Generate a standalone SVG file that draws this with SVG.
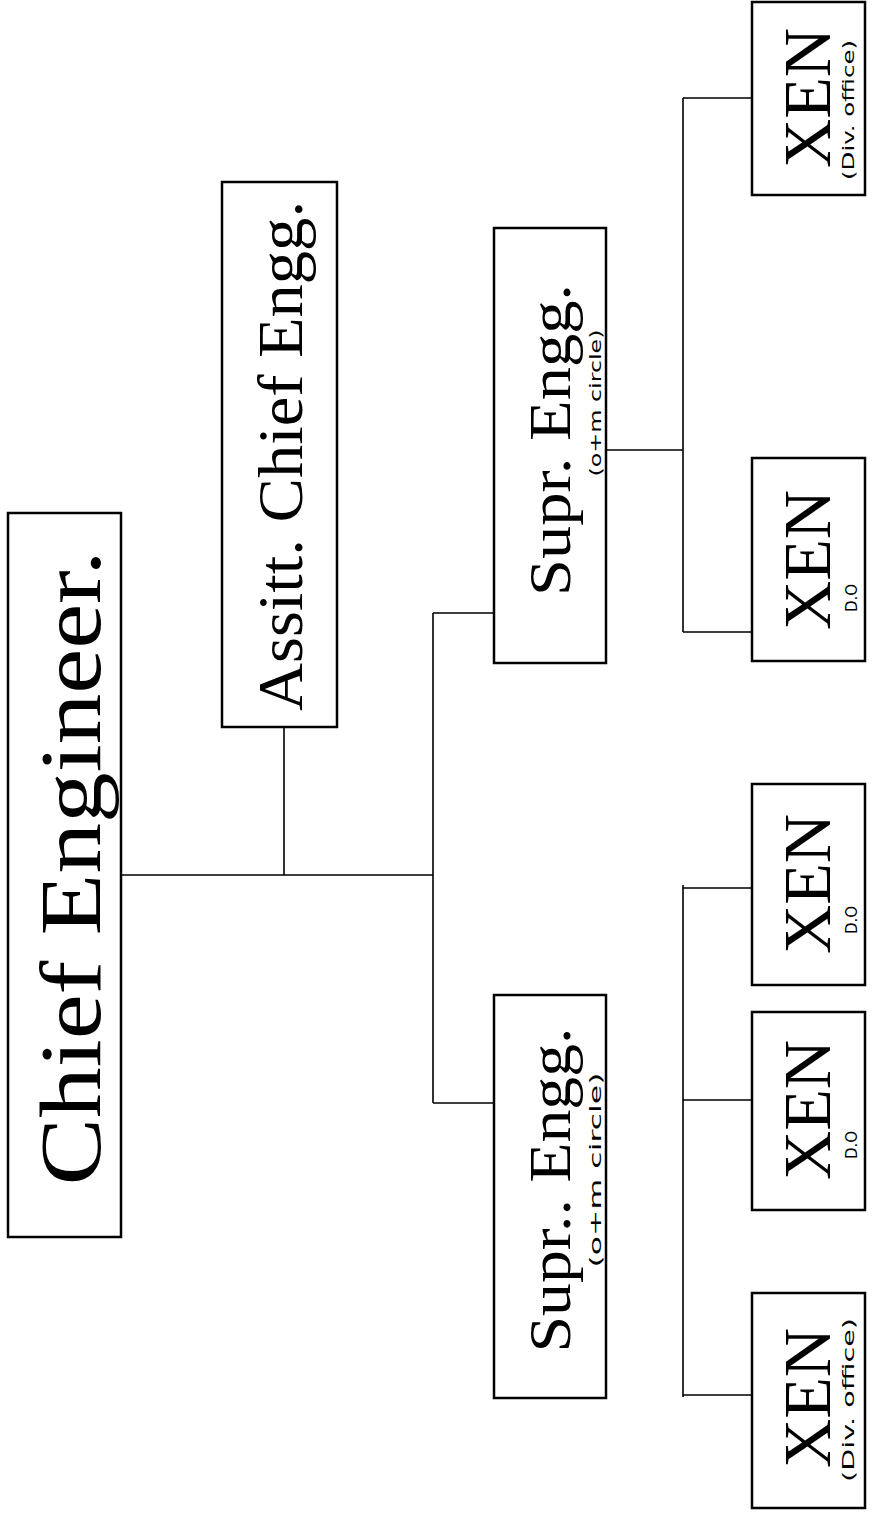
<svg xmlns="http://www.w3.org/2000/svg" width="873" height="1517" viewBox="0 0 873 1517">
<style>
.box{fill:#fff;stroke:#000;stroke-width:2.5}
.ln{fill:none;stroke:#000;stroke-width:1.6}
.t{font-family:"Liberation Serif","Times New Roman",serif;fill:#000;text-anchor:middle}
.h{font-family:"DejaVu Sans","Liberation Sans",sans-serif;fill:#000;text-anchor:middle}
</style>
<rect width="873" height="1517" fill="#fff"/>
<g id="connectors">
<path class="ln" d="M121 875H433M284 727V875M433 613V1103M433 613H494M433 1103H494"/>
<path class="ln" d="M606 450H683M683 98V632M683 98H752M683 632H752"/>
<path class="ln" d="M683 885V1397M683 888H752M683 1100H752M683 1395H752"/>
</g>
<g id="chief">
<rect class="box" x="8" y="513" width="113" height="724"/>
<text class="t" font-size="86" textLength="635" lengthAdjust="spacingAndGlyphs" transform="translate(100,868) rotate(-90)">Chief Engineer.</text>
</g>
<g id="assitt">
<rect class="box" x="222" y="182" width="115" height="545"/>
<text class="t" font-size="64" textLength="510" lengthAdjust="spacingAndGlyphs" transform="translate(302,456) rotate(-90)">Assitt. Chief Engg.</text>
</g>
<g id="supr1">
<rect class="box" x="494" y="228" width="112" height="435"/>
<text class="t" font-size="60" textLength="312" lengthAdjust="spacingAndGlyphs" transform="translate(570,440) rotate(-90)">Supr. Engg.</text>
<text class="h" font-size="15" textLength="147" lengthAdjust="spacingAndGlyphs" transform="translate(601,403) rotate(-90)">(o+m circle)</text>
</g>
<g id="supr2">
<rect class="box" x="494" y="995" width="112" height="403"/>
<text class="t" font-size="60" textLength="325" lengthAdjust="spacingAndGlyphs" transform="translate(570,1190) rotate(-90)">Supr.. Engg.</text>
<text class="h" font-size="15" textLength="195" lengthAdjust="spacingAndGlyphs" transform="translate(601,1170) rotate(-90)">(o+m circle)</text>
</g>
<g id="xen1">
<rect class="box" x="752" y="2" width="113" height="193"/>
<text class="t" font-size="68" textLength="140" lengthAdjust="spacingAndGlyphs" transform="translate(830,98) rotate(-90)">XEN</text>
<text class="h" font-size="16" textLength="140" lengthAdjust="spacingAndGlyphs" transform="translate(854,110) rotate(-90)">(Div. office)</text>
</g>
<g id="xen2">
<rect class="box" x="752" y="458" width="113" height="203"/>
<text class="t" font-size="68" textLength="140" lengthAdjust="spacingAndGlyphs" transform="translate(830,560) rotate(-90)">XEN</text>
<text class="h" font-size="15" transform="translate(857,598) rotate(-90)">D.O</text>
</g>
<g id="xen3">
<rect class="box" x="752" y="784" width="113" height="201"/>
<text class="t" font-size="68" textLength="140" lengthAdjust="spacingAndGlyphs" transform="translate(830,884) rotate(-90)">XEN</text>
<text class="h" font-size="15" transform="translate(857,920) rotate(-90)">D.O</text>
</g>
<g id="xen4">
<rect class="box" x="752" y="1012" width="113" height="198"/>
<text class="t" font-size="68" textLength="140" lengthAdjust="spacingAndGlyphs" transform="translate(830,1110) rotate(-90)">XEN</text>
<text class="h" font-size="15" transform="translate(857,1145) rotate(-90)">D.O</text>
</g>
<g id="xen5">
<rect class="box" x="752" y="1293" width="113" height="215"/>
<text class="t" font-size="68" textLength="140" lengthAdjust="spacingAndGlyphs" transform="translate(830,1398) rotate(-90)">XEN</text>
<text class="h" font-size="16" textLength="164" lengthAdjust="spacingAndGlyphs" transform="translate(854,1400) rotate(-90)">(Div. office)</text>
</g>
</svg>
